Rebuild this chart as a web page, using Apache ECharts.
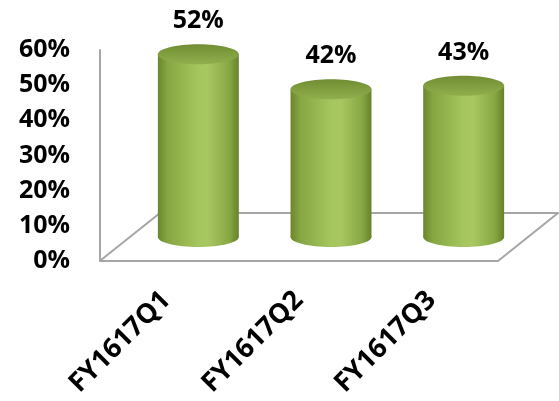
<!DOCTYPE html>
<html>
<head>
<meta charset="utf-8">
<script src="https://cdn.jsdelivr.net/npm/echarts@6/dist/echarts.min.js"></script>
<style>
  html, body { margin: 0; padding: 0; background: #fff; }
  #chart { width: 559px; height: 401px; }
</style>
</head>
<body>
<div id="chart"></div>
<script>
// Quarterly share, in percent
const categories = ['FY1617Q1', 'FY1617Q2', 'FY1617Q3'];
const values = [52, 42, 43];
const axisMin = 0;
const axisMax = 60;
const axisStep = 10;

const FONT = '"Open Sans"';
const FONT_SIZE = 25;
const EDGE = '#a6a6a6';
// Depth of the 3D floor (screen offset of the back edge)
const DEPTH_X = 60;
const DEPTH_Y = 48;

const chart = echarts.init(document.getElementById('chart'), null, { renderer: 'canvas' });

// Floor outline: the front edge is the category axis line itself
function renderFloor(params, api) {
  const bw = api.size([1, 0])[0];
  const first = api.coord([0, 0]);
  const last = api.coord([categories.length - 1, 0]);
  const L = first[0] - bw / 2;
  const R = last[0] + bw / 2;
  const y0 = first[1];
  return {
    type: 'polyline',
    shape: { points: [[L + 1, y0 - 1], [L + DEPTH_X, y0 - DEPTH_Y], [R + DEPTH_X, y0 - DEPTH_Y], [R, y0]] },
    style: { stroke: EDGE, lineWidth: 2, fill: null }
  };
}

// Cylinder standing in the middle plane of the floor
function renderCylinder(params, api) {
  const i = api.value(0);
  const v = api.value(1);
  const bw = api.size([1, 0])[0];
  const base = api.coord([i, 0]);
  const top = api.coord([i, v]);
  const cx = base[0] + DEPTH_X / 2 + 2;
  const by = base[1] - DEPTH_Y / 2;
  const ty = top[1] - DEPTH_Y / 2;
  const rx = bw * 0.305;
  const ry = 10;
  const bodyFill = new echarts.graphic.LinearGradient(0, 0, 1, 0, [
    { offset: 0, color: '#6a872d' },
    { offset: 0.12, color: '#86a642' },
    { offset: 0.5, color: '#a5c55e' },
    { offset: 0.62, color: '#a8c761' },
    { offset: 0.88, color: '#88a844' },
    { offset: 1, color: '#66822a' }
  ]);
  const topFill = new echarts.graphic.LinearGradient(0, 0, 0, 1, [
    { offset: 0, color: '#728d34' },
    { offset: 1, color: '#90af4c' }
  ]);
  return {
    type: 'group',
    children: [
      { type: 'rect', shape: { x: cx - rx, y: ty, width: rx * 2, height: by - ty }, style: { fill: bodyFill } },
      { type: 'ellipse', shape: { cx: cx, cy: by, rx: rx, ry: ry }, style: { fill: bodyFill } },
      { type: 'ellipse', shape: { cx: cx, cy: ty, rx: rx, ry: ry }, style: { fill: topFill } },
      {
        type: 'text',
        style: {
          text: v + '%', x: cx, y: ty - ry - 23,
          align: 'center', verticalAlign: 'middle',
          font: 'bold ' + FONT_SIZE + 'px ' + FONT, fill: '#000'
        }
      }
    ]
  };
}

chart.setOption({
  animation: false,
  backgroundColor: '#fff',
  grid: { left: 100, right: 61, top: 50, bottom: 140 },
  xAxis: {
    type: 'category',
    data: categories,
    axisLine: { lineStyle: { color: EDGE, width: 2 } },
    axisTick: { show: false },
    axisLabel: {
      rotate: 45, margin: 35, color: '#000',
      fontFamily: FONT, fontWeight: 'bold', fontSize: 27
    }
  },
  yAxis: {
    type: 'value',
    min: axisMin, max: axisMax, interval: axisStep,
    axisLine: { show: true, lineStyle: { color: EDGE, width: 2 } },
    axisTick: { show: false },
    splitLine: { show: false },
    axisLabel: {
      formatter: '{value}%', margin: 30, color: '#000',
      fontFamily: FONT, fontWeight: 'bold', fontSize: FONT_SIZE
    }
  },
  series: [
    {
      type: 'custom', z: 1, silent: true,
      renderItem: renderFloor,
      data: [[0, 0]],
      encode: { x: 0, y: 1 }
    },
    {
      type: 'custom', z: 2,
      renderItem: renderCylinder,
      data: values.map((v, i) => [i, v]),
      encode: { x: 0, y: 1 }
    }
  ]
});
</script>
</body>
</html>
